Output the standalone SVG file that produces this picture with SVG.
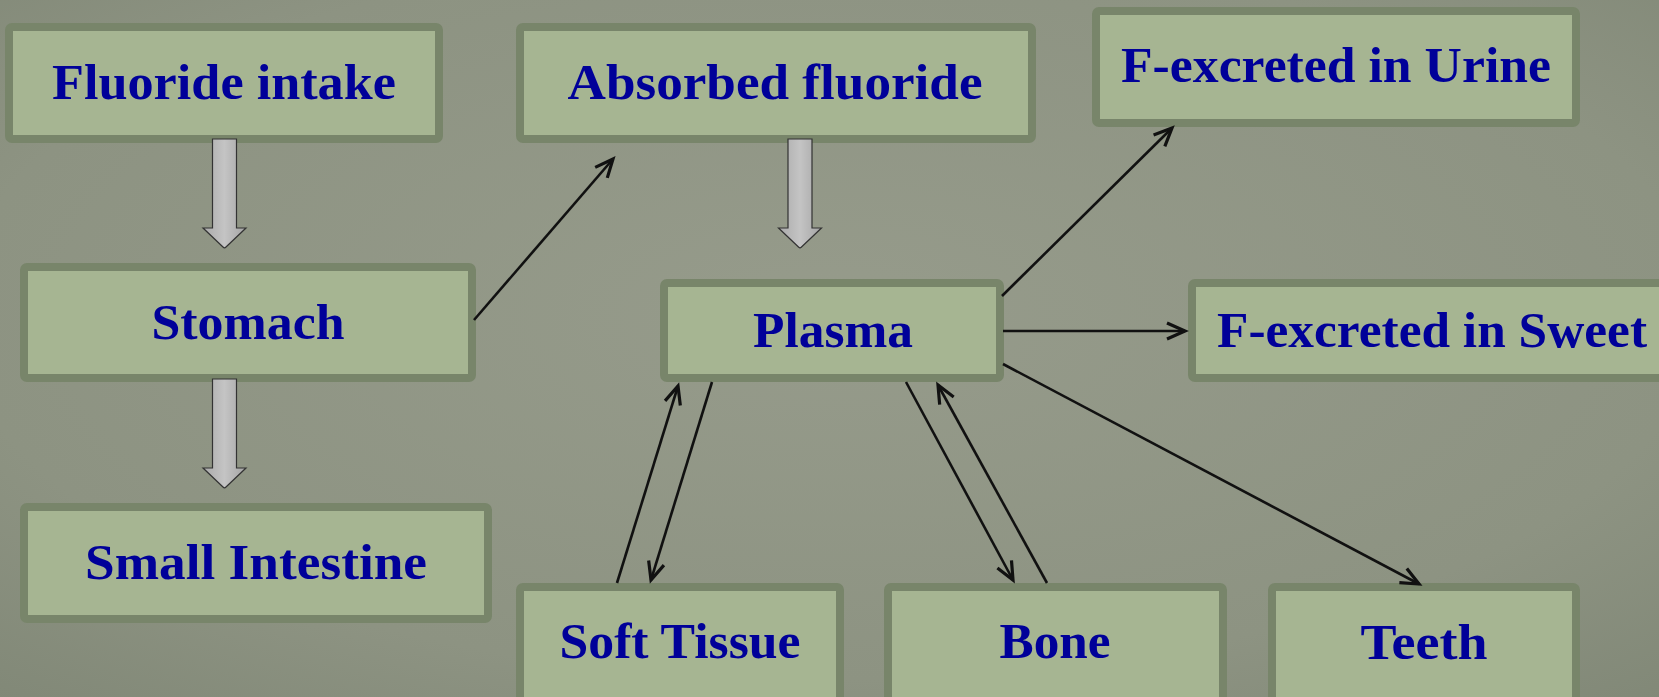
<svg xmlns="http://www.w3.org/2000/svg" width="1659" height="697" viewBox="0 0 1659 697">
<defs>
<radialGradient id="bg" cx="50%" cy="45%" r="75%">
<stop offset="0" stop-color="#969b8b"/>
<stop offset="0.7" stop-color="#8d9382"/>
<stop offset="1" stop-color="#818877"/>
</radialGradient>
<linearGradient id="gr" x1="0" y1="0" x2="1" y2="0">
<stop offset="0" stop-color="#a9a9a9"/>
<stop offset="0.5" stop-color="#c4c4c4"/>
<stop offset="1" stop-color="#a4a4a4"/>
</linearGradient>
<marker id="ah" markerUnits="userSpaceOnUse" markerWidth="26" markerHeight="26" viewBox="-22 -13 26 26" refX="0" refY="0" orient="auto">
<path d="M-18,-8 L0,0 L-18,8" fill="none" stroke="#111" stroke-width="3.2" stroke-linejoin="miter"/>
</marker>
<path id="blk" d="M-12,0 L12,0 L12,89 L21.5,89 L1.5,108 Q0,109.5 -1.5,108 L-21.5,89 L-12,89 Z"/>
</defs>
<style>
.box{fill:#a6b592;stroke:#78856a;stroke-width:8}
.lbl{font-family:"Liberation Serif","Times New Roman",serif;font-weight:bold;font-size:50px;fill:#000099;text-anchor:middle}
.con{fill:none;stroke:#111;stroke-width:2.6;marker-end:url(#ah)}
.bar{fill:url(#gr);stroke:#333;stroke-width:1.2}
</style>
<rect width="1659" height="697" fill="url(#bg)"/>

<g id="node-intake"><rect class="box" x="9" y="27" width="430" height="112" rx="3"/><text class="lbl" x="224" y="99" textLength="344" lengthAdjust="spacingAndGlyphs">Fluoride intake</text></g>
<g id="node-stomach"><rect class="box" x="24" y="267" width="448" height="111" rx="3"/><text class="lbl" x="248" y="339" textLength="193" lengthAdjust="spacingAndGlyphs">Stomach</text></g>
<g id="node-intestine"><rect class="box" x="24" y="507" width="464" height="112" rx="3"/><text class="lbl" x="256" y="579" textLength="342" lengthAdjust="spacingAndGlyphs">Small Intestine</text></g>
<g id="node-absorbed"><rect class="box" x="520" y="27" width="512" height="112" rx="3"/><text class="lbl" x="775" y="99" textLength="415" lengthAdjust="spacingAndGlyphs">Absorbed fluoride</text></g>
<g id="node-plasma"><rect class="box" x="664" y="283" width="336" height="95" rx="3"/><text class="lbl" x="833" y="347" textLength="160" lengthAdjust="spacingAndGlyphs">Plasma</text></g>
<g id="node-urine"><rect class="box" x="1096" y="11" width="480" height="112" rx="3"/><text class="lbl" x="1336" y="82" textLength="430" lengthAdjust="spacingAndGlyphs">F-excreted in Urine</text></g>
<g id="node-sweet"><rect class="box" x="1192" y="283" width="490" height="95" rx="3"/><text class="lbl" x="1432" y="347" textLength="430" lengthAdjust="spacingAndGlyphs">F-excreted in Sweet</text></g>
<g id="node-soft"><rect class="box" x="520" y="587" width="320" height="130" rx="3"/><text class="lbl" x="680" y="658" textLength="241" lengthAdjust="spacingAndGlyphs">Soft Tissue</text></g>
<g id="node-bone"><rect class="box" x="888" y="587" width="335" height="130" rx="3"/><text class="lbl" x="1055" y="658" textLength="111" lengthAdjust="spacingAndGlyphs">Bone</text></g>
<g id="node-teeth"><rect class="box" x="1272" y="587" width="304" height="130" rx="3"/><text class="lbl" x="1424" y="659" textLength="127" lengthAdjust="spacingAndGlyphs">Teeth</text></g>

<g id="connectors">
<use href="#blk" class="bar" transform="translate(224.5,139)"/>
<use href="#blk" class="bar" transform="translate(224.5,379)"/>
<use href="#blk" class="bar" transform="translate(800,139)"/>
<line class="con" x1="474" y1="320" x2="613" y2="159"/>
<line class="con" x1="1002" y1="296" x2="1172" y2="128"/>
<line class="con" x1="1003" y1="331" x2="1185" y2="331"/>
<line class="con" x1="1003" y1="364" x2="1419" y2="584"/>
<line class="con" x1="617" y1="583" x2="678" y2="386"/>
<line class="con" x1="712" y1="382" x2="651" y2="580"/>
<line class="con" x1="906" y1="382" x2="1013" y2="580"/>
<line class="con" x1="1047" y1="583" x2="938" y2="385"/>
</g>
</svg>
